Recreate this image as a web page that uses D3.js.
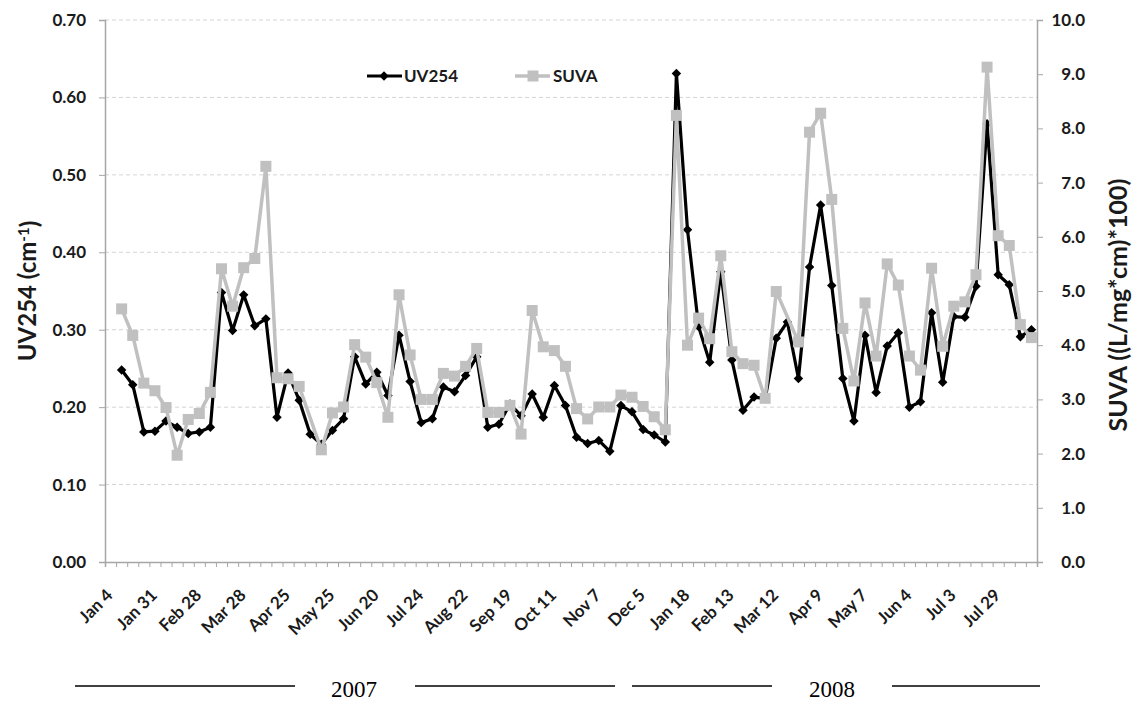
<!DOCTYPE html>
<html>
<head>
<meta charset="utf-8">
<script src="https://cdn.jsdelivr.net/npm/d3@7"></script>
<style>
  body { margin: 0; background: #fff; }
  svg { display: block; }
  .tick text { font-family: Lato, "Open Sans", sans-serif; font-weight: bold; fill: #1a1a1a; }
</style>
</head>
<body>
<div id="chart"></div>
<script>
// sample dates shown under every 4th category
const tickLabels = ["Jan 4","Jan 31","Feb 28","Mar 28","Apr 25","May 25","Jun 20","Jul 24",
  "Aug 22","Sep 19","Oct 11","Nov 7","Dec 5","Jan 18","Feb 13","Mar 12","Apr 9","May 7",
  "Jun 4","Jul 3","Jul 29"];

// UV254 (cm-1), one value per sample (first slot empty)
const uv254 = [null,0.248,0.229,0.168,0.169,0.182,0.174,0.166,0.168,0.174,
  0.348,0.299,0.345,0.305,0.314,0.187,0.244,0.209,0.165,0.152,
  0.170,0.185,0.265,0.230,0.245,0.215,0.293,0.233,0.180,0.185,
  0.226,0.220,0.241,0.265,0.174,0.178,0.204,0.189,0.217,0.187,
  0.228,0.202,0.161,0.153,0.157,0.143,0.202,0.194,0.171,0.164,
  0.155,0.631,0.429,0.304,0.258,0.375,0.261,0.196,0.213,0.211,
  0.289,0.310,0.237,0.381,0.461,0.357,0.237,0.182,0.293,0.219,
  0.279,0.296,0.200,0.207,0.322,0.232,0.317,0.316,0.356,0.566,
  0.371,0.358,0.291,0.300];

// SUVA ((L/mg*cm)*100)
const suva = [null,4.67,4.18,3.30,3.16,2.85,1.97,2.63,2.74,3.13,
  5.41,4.72,5.43,5.60,7.30,3.40,3.38,3.24,null,2.07,
  2.75,2.86,4.01,3.78,3.31,2.67,4.93,3.82,3.00,3.00,
  3.48,3.43,3.61,3.94,2.76,2.76,2.89,2.36,4.64,3.97,
  3.90,3.61,2.83,2.64,2.86,2.86,3.08,3.04,2.87,2.68,
  2.44,8.24,4.00,4.50,4.12,5.65,3.88,3.66,3.63,3.02,
  4.99,null,4.06,7.93,8.28,6.69,4.31,3.34,4.78,3.80,
  5.50,5.11,3.80,3.54,5.42,3.98,4.72,4.80,5.30,9.13,
  6.02,5.84,4.38,4.14];

const years = ["2007", "2008"];
const leftTicks = [0,0.1,0.2,0.3,0.4,0.5,0.6,0.7];
const rightTicks = [0,1,2,3,4,5,6,7,8,9,10];

const width = 1135, height = 702;
const margin = { top: 20, right: 98, bottom: 140, left: 105 };
const gridColor = "#d4d4d4", axisColor = "#a6a6a6";
const sans = "Lato, 'Open Sans', sans-serif";

const svg = d3.select("#chart").append("svg")
  .attr("width", width).attr("height", height);

const n = uv254.length;
const idx = d3.range(n);

const xScale = d3.scaleBand()
  .domain(idx)
  .range([margin.left, width - margin.right])
  .padding(0);
const xEdge = d3.scaleLinear().domain([0, n]).range([margin.left, width - margin.right]);
const cx = i => xScale(i) + xScale.bandwidth() / 2;

const yLeft = d3.scaleLinear().domain([0, 0.7]).range([height - margin.bottom, margin.top]);
const yRight = d3.scaleLinear().domain([0, 10]).range([height - margin.bottom, margin.top]);

// gridlines
svg.append("g")
  .selectAll("line")
  .data(leftTicks.slice(1))
  .join("line")
  .attr("x1", margin.left).attr("x2", width - margin.right)
  .attr("y1", d => yLeft(d)).attr("y2", d => yLeft(d))
  .attr("stroke", gridColor).attr("stroke-width", 1)
  .attr("stroke-dasharray", "4,3");

// axes
const styleAxis = g => {
  g.select(".domain").attr("stroke", axisColor).attr("stroke-width", 1.5);
  g.selectAll(".tick line").attr("stroke", axisColor).attr("stroke-width", 1);
};

svg.append("g")
  .attr("transform", `translate(${margin.left},0)`)
  .call(d3.axisLeft(yLeft).tickValues(leftTicks).tickFormat(d3.format(".2f")).tickSizeOuter(0).tickSize(6).tickPadding(13))
  .call(styleAxis)
  .selectAll("text").style("font-size", "17px");

svg.append("g")
  .attr("transform", `translate(${width - margin.right},0)`)
  .call(d3.axisRight(yRight).tickValues(rightTicks).tickFormat(d3.format(".1f")).tickSizeOuter(0).tickSize(6))
  .call(styleAxis)
  .selectAll("text")
  .attr("text-anchor", "end")
  .attr("x", 48)
  .style("font-size", "17px");

svg.append("g")
  .attr("transform", `translate(0,${height - margin.bottom})`)
  .call(d3.axisBottom(xEdge).tickValues(d3.range(n + 1)).tickFormat("").tickSizeOuter(0).tickSize(5))
  .call(styleAxis);

// category labels, every 4th sample
svg.append("g")
  .selectAll("g")
  .data(idx.filter(i => i % 4 === 0))
  .join("g")
  .attr("transform", i => `translate(${cx(i) - 1},${height - margin.bottom + 30})`)
  .append("text")
  .attr("transform", "rotate(-45)")
  .attr("text-anchor", "end")
  .attr("dy", "0.35em")
  .style("font-family", sans)
  .style("font-weight", "bold")
  .style("font-size", "17px")
  .attr("fill", "#1a1a1a")
  .text(i => tickLabels[i / 4]);

// axis titles
const leftTitle = svg.append("text")
  .attr("transform", `translate(36,${(margin.top + height - margin.bottom) / 2}) rotate(-90)`)
  .attr("text-anchor", "middle")
  .style("font-family", sans)
  .style("font-weight", "bold")
  .style("font-size", "24px")
  .attr("fill", "#1a1a1a");
leftTitle.append("tspan").text("UV254 (cm");
leftTitle.append("tspan").attr("dy", "-0.5em").style("font-size", "15px").text("-1");
leftTitle.append("tspan").attr("dy", "0.38em").text(")");

svg.append("text")
  .attr("transform", `translate(1127,${(margin.top + height - margin.bottom) / 2 + 14}) rotate(-90)`)
  .attr("text-anchor", "middle")
  .style("font-family", sans)
  .style("font-weight", "bold")
  .style("font-size", "25px")
  .attr("fill", "#1a1a1a")
  .text("SUVA ((L/mg*cm)*100)");

// UV254 series
const uvPts = idx.filter(i => uv254[i] !== null);
svg.append("path")
  .datum(uvPts)
  .attr("fill", "none")
  .attr("stroke", "#000")
  .attr("stroke-width", 3.2)
  .attr("stroke-linejoin", "round")
  .attr("d", d3.line().x(i => cx(i)).y(i => yLeft(uv254[i])));

const diamond = d3.symbol(d3.symbolSquare, 45);
svg.append("g")
  .selectAll("path")
  .data(uvPts)
  .join("path")
  .attr("d", diamond)
  .attr("transform", i => `translate(${cx(i)},${yLeft(uv254[i])}) rotate(45)`)
  .attr("fill", "#000");

// SUVA series
const suvaPts = idx.filter(i => suva[i] !== null);
svg.append("path")
  .datum(suvaPts)
  .attr("fill", "none")
  .attr("stroke", "#c0c0c0")
  .attr("stroke-width", 3.5)
  .attr("stroke-linejoin", "round")
  .attr("d", d3.line().x(i => cx(i)).y(i => yRight(suva[i])));

const square = d3.symbol(d3.symbolSquare, 121);
svg.append("g")
  .selectAll("path")
  .data(suvaPts)
  .join("path")
  .attr("d", square)
  .attr("transform", i => `translate(${cx(i)},${yRight(suva[i])})`)
  .attr("fill", "#c0c0c0");

// legend
const legend = svg.append("g").attr("transform", "translate(367,76)");
legend.append("line").attr("x1", 0).attr("x2", 35).attr("stroke", "#000").attr("stroke-width", 3);
legend.append("path").attr("d", diamond).attr("transform", "translate(17,0) rotate(45)").attr("fill", "#000");
legend.append("text").attr("x", 37).attr("dy", "0.35em")
  .style("font-family", sans).style("font-weight", "bold").style("font-size", "17px")
  .attr("fill", "#1a1a1a").text("UV254");
legend.append("line").attr("x1", 148).attr("x2", 183).attr("stroke", "#c0c0c0").attr("stroke-width", 3.5);
legend.append("path").attr("d", square).attr("transform", "translate(166,0)").attr("fill", "#c0c0c0");
legend.append("text").attr("x", 186).attr("dy", "0.35em")
  .style("font-family", sans).style("font-weight", "bold").style("font-size", "17px")
  .attr("fill", "#1a1a1a").text("SUVA");

// year brackets under the axis
const yearLines = [[75, 295], [415, 615], [632, 772], [892, 1040]];
svg.append("g")
  .selectAll("line")
  .data(yearLines)
  .join("line")
  .attr("x1", d => d[0]).attr("x2", d => d[1])
  .attr("y1", 686).attr("y2", 686)
  .attr("stroke", "#000").attr("stroke-width", 1.5);

svg.append("g")
  .selectAll("text")
  .data(years)
  .join("text")
  .attr("x", (d, i) => [354, 832][i])
  .attr("y", 697)
  .attr("text-anchor", "middle")
  .style("font-family", "'Liberation Serif', 'Times New Roman', serif")
  .style("font-size", "23px")
  .attr("fill", "#000")
  .text(d => d);
</script>
</body>
</html>
